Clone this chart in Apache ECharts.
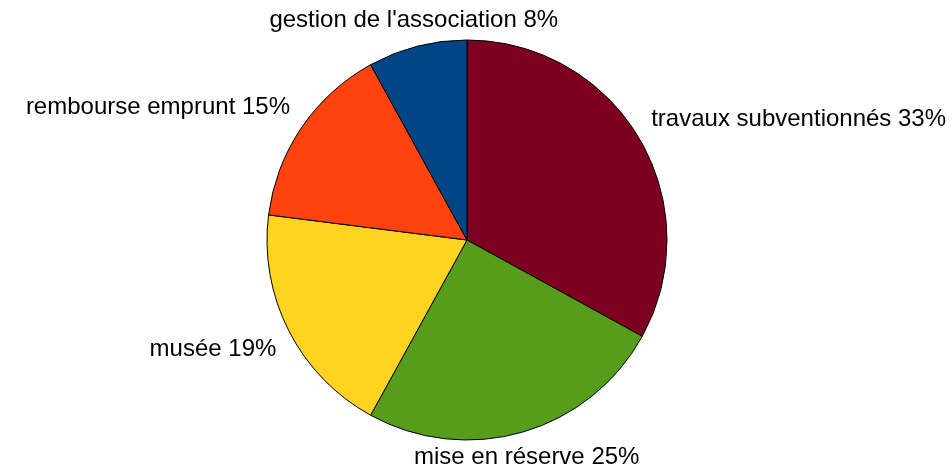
<!DOCTYPE html>
<html>
<head>
<meta charset="utf-8">
<script src="https://cdn.jsdelivr.net/npm/echarts@6/dist/echarts.min.js"></script>
<style>
  html, body { margin: 0; padding: 0; background: #fff; }
  #chart { width: 952px; height: 469px; }
</style>
</head>
<body>
<div id="chart"></div>
<script>
var names = ['travaux subventionnés', 'mise en réserve', 'musée', 'rembourse emprunt', "gestion de l'association"];
var values = [33, 25, 19, 15, 8];
var colors = ['#7e0021', '#579d1c', '#ffd320', '#ff420e', '#004586'];

var cx = 467, cy = 240, r = 200;
var total = values.reduce(function(a, b) { return a + b; }, 0);

// angle du milieu de chaque part (depuis midi, sens horaire)
function midAngle(idx) {
    var acc = 0;
    for (var i = 0; i < idx; i++) acc += values[i];
    return (acc + values[idx] / 2) / total * Math.PI * 2;
}

var myChart = echarts.init(document.getElementById('chart'));

myChart.setOption({
    backgroundColor: '#fff',
    animation: false,
    series: [{
        type: 'pie',
        center: [cx, cy],
        radius: r,
        startAngle: 90,
        clockwise: true,
        avoidLabelOverlap: false,
        itemStyle: { borderColor: '#000', borderWidth: 1 },
        label: {
            show: true,
            position: 'outside',
            formatter: '{b} {c}%',
            color: '#000',
            fontFamily: 'Liberation Sans',
            fontSize: 24,
            lineHeight: 24
        },
        labelLine: { show: false },
        emphasis: { disabled: true },
        labelLayout: function(params) {
            var a = midAngle(params.dataIndex);
            var s = Math.sin(a), c = Math.cos(a);
            var R = r + 14;
            return {
                x: cx + R * s,
                y: cy - R * c,
                align: Math.abs(s) < 0.5 ? 'center' : (s > 0 ? 'left' : 'right'),
                verticalAlign: Math.abs(c) < 0.3 ? 'middle' : (c > 0 ? 'bottom' : 'top')
            };
        },
        data: names.map(function(n, i) {
            return { name: n, value: values[i], itemStyle: { color: colors[i] } };
        })
    }]
});
</script>
</body>
</html>
